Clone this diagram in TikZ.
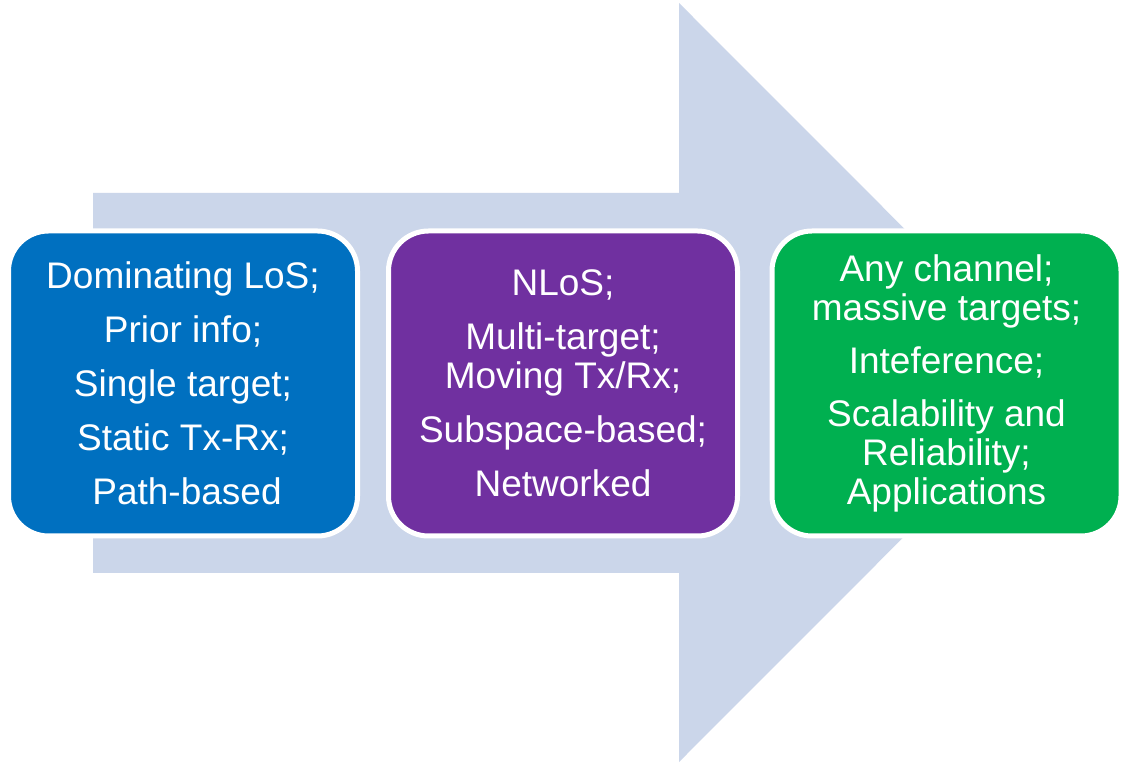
\documentclass[tikz,border=0pt]{standalone}
\usepackage{fontspec}
\setmainfont{Liberation Sans}
\definecolor{arrowcol}{RGB}{203,214,234}
\definecolor{bluebox}{RGB}{0,112,192}
\definecolor{purplebox}{RGB}{112,48,160}
\definecolor{greenbox}{RGB}{0,176,80}
\begin{document}
\begin{tikzpicture}[x=1pt,y=1pt,
  stagebox/.style={draw=white, line width=5pt, rounded corners=40pt,
    minimum width=349pt, minimum height=305pt, inner sep=0pt,
    text=white, align=center, font=\fontsize{37}{39}\selectfont}]
\useasboundingbox (0,0) rectangle (1124,763);
\fill[white] (0,0) rectangle (1124,763);
% big arrow
\fill[arrowcol] (93,570) -- (679,570) -- (679,760) -- (1058,380.5)
  -- (679,1) -- (679,190) -- (93,190) -- cycle;
\node[stagebox, fill=bluebox] (b1) at (183,379.5)
  {Dominating LoS;\\[15pt] Prior info;\\[15pt] Single target;\\[15pt] Static Tx-Rx;\\[15pt] \hspace*{8pt}Path-based};
\node[stagebox, fill=purplebox] (b2) at (563,379.5)
  {NLoS;\\[15pt] Multi-target;\\ Moving Tx/Rx;\\[15pt] Subspace-based;\\[15pt] Networked};
\node[stagebox, fill=greenbox] (b3) at (946.5,379.5)
  {Any channel;\\ massive targets;\\[14pt] Inteference;\\[14pt] Scalability and\\ Reliability;\\ Applications};
\end{tikzpicture}
\end{document}
